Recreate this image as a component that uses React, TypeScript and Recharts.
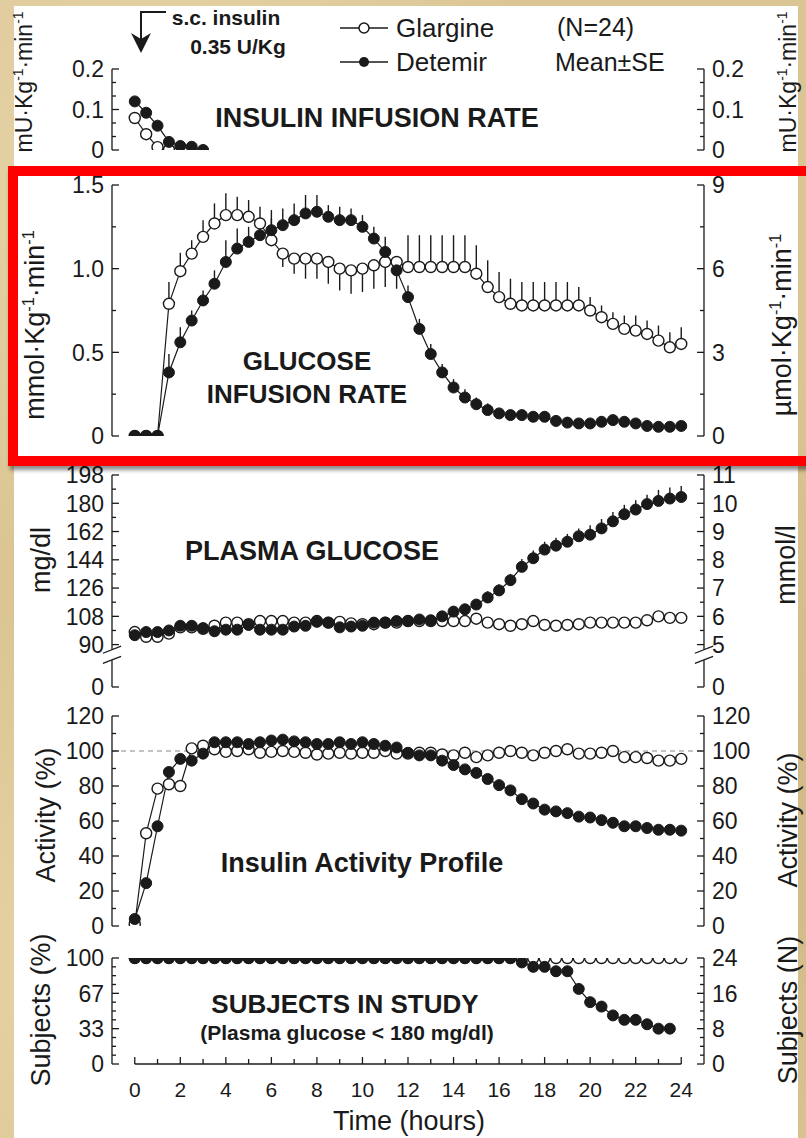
import { LineChart, Line, XAxis, YAxis, ReferenceLine, ErrorBar } from "recharts"

const FONT = '"Liberation Sans", Arial, Helvetica, sans-serif'
const INK = "#1a1a1a"
const W = 806
const MARGIN = { top: 20, right: 42, bottom: 20, left: 52 }
const AXIS_W = 60
const GAP = 8

// sampling times (hours)
const hours = [
  0, 0.5, 1, 1.5, 2, 2.5, 3, 3.5, 4, 4.5, 5, 5.5, 6, 6.5, 7, 7.5, 8, 8.5, 9, 9.5,
  10, 10.5, 11, 11.5, 12, 12.5, 13, 13.5, 14, 14.5, 15, 15.5, 16, 16.5, 17, 17.5,
  18, 18.5, 19, 19.5, 20, 20.5, 21, 21.5, 22, 22.5, 23, 23.5, 24,
]
const hourTicks = [0, 1, 2, 3, 4, 5, 6, 7, 8, 9, 10, 11, 12, 13, 14, 15, 16, 17, 18, 19, 20, 21, 22, 23, 24]

// insulin infusion rate (mU/kg/min)
const infHours = [0, 0.5, 1, 1.5, 2, 2.5, 3]
const infGlargine = [0.079, 0.039, 0.007, 0, null, null, null]
const infDetemir = [0.12, 0.092, 0.06, 0.02, 0.01, 0.008, 0]

// glucose infusion rate (mmol/kg/min)
const girGlargine = [
  0, 0, 0, 0.79, 0.985, 1.09, 1.19, 1.27, 1.32, 1.32, 1.31, 1.27,
  1.17, 1.09, 1.06, 1.06, 1.06, 1.04, 1.0, 0.99, 1.0, 1.02, 1.04, 1.04,
  1.01, 1.01, 1.01, 1.01, 1.01, 1.01, 0.97, 0.89, 0.83, 0.79, 0.78, 0.78,
  0.78, 0.78, 0.78, 0.78, 0.75, 0.71, 0.67, 0.64, 0.63, 0.61, 0.57, 0.53, 0.55,
]
const girGlargineSeDown = [
  0, 0, 0, 0, 0, 0, 0, 0, 0, 0, 0, 0,
  0, 0.08, 0.09, 0.12, 0.12, 0.13, 0.13, 0.14, 0.14, 0.14, 0.15, 0.16,
  0, 0, 0, 0, 0, 0, 0, 0, 0, 0, 0, 0,
  0, 0, 0, 0, 0, 0, 0, 0, 0, 0, 0, 0, 0,
]
const girGlargineSeUp = [
  0, 0, 0, 0.13, 0.11, 0.08, 0.1, 0.12, 0.13, 0.11, 0.1, 0.1,
  0.18, 0, 0, 0, 0, 0, 0, 0, 0, 0, 0, 0,
  0.19, 0.19, 0.19, 0.19, 0.19, 0.19, 0.17, 0.16, 0.15, 0.15, 0.14, 0.14,
  0.14, 0.14, 0.14, 0.11, 0.08, 0.07, 0.07, 0.08, 0.09, 0.08, 0.09, 0.09, 0.1,
]
const girDetemir = [
  0, 0, 0, 0.38, 0.56, 0.69, 0.81, 0.91, 1.04, 1.12, 1.16, 1.2,
  1.23, 1.26, 1.29, 1.33, 1.34, 1.31, 1.29, 1.29, 1.25, 1.18, 1.1, 0.99,
  0.83, 0.64, 0.49, 0.38, 0.29, 0.23, 0.19, 0.155, 0.135, 0.125, 0.125, 0.115,
  0.115, 0.09, 0.08, 0.075, 0.075, 0.085, 0.095, 0.085, 0.075, 0.06, 0.055, 0.055, 0.06,
]
const girDetemirSe = [
  0, 0, 0, 0.11, 0.09, 0.06, 0.06, 0.08, 0.13, 0.12, 0.09, 0.08,
  0.07, 0.1, 0.1, 0.11, 0.1, 0.07, 0.08, 0.07, 0.07, 0.07, 0.09, 0.08,
  0.07, 0.06, 0.06, 0.05, 0.05, 0.05, 0.04, 0.04, 0.03, 0.03, 0.03, 0.03,
  0.03, 0.03, 0.03, 0.03, 0.03, 0.03, 0.03, 0.03, 0.03, 0.03, 0.03, 0.03, 0.03,
]

// plasma glucose (mg/dl)
const pgGlargine = [
  98, 95, 95, 97, 101, 101, 100, 102, 104, 104, 103, 105,
  105, 105, 104, 104, 105, 104, 104.5, 103.5, 103, 103, 104, 104,
  105, 105, 105, 105, 105, 105, 106.5, 104, 103, 102, 103, 105,
  102.5, 102, 102.5, 103, 104, 104, 104, 104, 104, 105.5, 108, 107, 107,
]
const pgDetemir = [
  96, 98, 98, 99, 102, 102, 100.5, 98.5, 99.5, 99.5, 102.5, 99.5,
  99.5, 99.5, 101.5, 102, 104.5, 104, 101, 101.5, 102, 104, 104, 105,
  105, 106, 105.5, 108, 111, 112.5, 115.5, 120, 124.5, 131, 139.5, 145,
  150.5, 153, 155.5, 159, 160, 164, 168.5, 173, 176, 179.5, 181.5, 183, 184,
]
const pgDetemirSe = [
  0, 0, 0, 0, 0, 0, 0, 0, 0, 0, 0, 0,
  0, 0, 0, 0, 0, 0, 0, 0, 0, 0, 0, 0,
  0, 0, 0, 0, 2, 3, 3, 4, 4, 4, 5, 5,
  5, 5, 5, 5, 6, 6, 6, 6, 6, 6, 7, 7, 7,
]

// insulin activity (%)
const actGlargine = [
  1, 53, 78.5, 81, 80, 101.5, 103, 101, 99.5, 100, 101, 99,
  99.5, 100, 99.5, 99, 98, 98.5, 99, 98.5, 99, 99, 100, 98.5,
  98.5, 99, 99, 98, 97.5, 99, 96.5, 97.5, 99, 100, 99, 97.5,
  99, 100, 101, 98.5, 98.5, 99, 100, 96.5, 96.5, 96, 94.5, 94.5, 95.5,
]
const actDetemir = [
  4, 24.5, 57, 88, 95.5, 94.5, 98.5, 105, 105, 105, 104, 105,
  106, 106.5, 105.5, 105, 104, 104, 105, 104, 105, 104, 103, 102,
  99, 97.5, 97.5, 94.5, 92, 89.5, 87.5, 84, 80.5, 77.5, 72.5, 70,
  66.5, 65.5, 64.5, 62.5, 62, 60.5, 59, 57, 57, 56, 55, 55, 54.5,
]

// subjects remaining in study (N of 24)
const subjGlargine = [
  24, 24, 24, 24, 24, 24, 24, 24, 24, 24, 24, 24,
  24, 24, 24, 24, 24, 24, 24, 24, 24, 24, 24, 24,
  24, 24, 24, 24, 24, 24, 24, 24, 24, 24, 24, 24,
  24, 24, 24, 24, 24, 24, 24, 24, 24, 24, 24, 24, 24,
]
const subjDetemir = [
  24, 24, 24, 24, 24, 24, 24, 24, 24, 24, 24, 24,
  24, 24, 24, 24, 24, 24, 24, 24, 24, 24, 24, 24,
  24, 24, 24, 24, 24, 24, 24, 24, 24, 24, 23, 22,
  22, 21, 21, 17, 14, 13, 11, 10, 10, 9, 8, 8, null,
]

const openDot = { r: 5.5, fill: "#fff", stroke: INK, strokeWidth: 1.4 }
const fillDot = { r: 5.5, fill: INK, stroke: INK, strokeWidth: 1 }

function yTick(side: "left" | "right", majors: number[], fmt: (v: number) => string) {
  return (p: any) => {
    const v = p.payload.value
    const major = majors.includes(v)
    const dir = side === "left" ? 1 : -1
    const ax = p.x + dir * GAP
    return (
      <g>
        <line x1={ax} y1={p.y} x2={ax + dir * (major ? 7 : 4)} y2={p.y} stroke={INK} strokeWidth={1.3} />
        {major && (
          <text x={p.x} y={p.y} dy="0.36em" textAnchor={side === "left" ? "end" : "start"}
            fontSize={23} fontFamily={FONT} fill={INK}>{fmt(v)}</text>
        )}
      </g>
    )
  }
}

const xTick = (p: any) => {
  const v = p.payload.value
  const major = v % 2 === 0
  return (
    <g>
      <line x1={p.x} x2={p.x} y1={p.y} y2={p.y - (major ? 7 : 5)} stroke={INK} strokeWidth={1.3} />
      {major && (
        <text x={p.x} y={p.y + 25} dy="0.36em" textAnchor="middle" fontSize={21} fontFamily={FONT} fill={INK}>{v}</text>
      )}
    </g>
  )
}

function yAxes(id: string, domain: [number, number], ticks: number[], majors: number[],
  fmtL: (v: number) => string, fmtR: (v: number) => string, line = true) {
  const common = {
    domain, ticks, interval: 0 as const, width: AXIS_W, tickSize: 0, tickMargin: GAP,
    tickLine: false, allowDataOverflow: true,
    axisLine: line ? { stroke: INK, strokeWidth: 1.3 } : false,
  }
  return [
    <YAxis key="l" yAxisId={id} orientation="left" {...common} tick={yTick("left", majors, fmtL)} />,
    <YAxis key="r" yAxisId={id + "r"} orientation="right" {...common} tick={yTick("right", majors, fmtR)} />,
  ]
}

const hiddenX = <XAxis type="number" dataKey="hour" domain={[-1, 25]} hide />
const str = (v: number) => String(v)

function UnitLabel({ x, y, pre, size = 26 }: { x: number; y: number; pre: string; size?: number }) {
  const up = size * 0.38
  return (
    <text transform={`translate(${x} ${y}) rotate(-90)`} textAnchor="middle" fontSize={size}>
      {pre}·Kg<tspan dy={-up} fontSize={size * 0.6}>-1</tspan>
      <tspan dy={up}>·min</tspan>
      <tspan dy={-up} fontSize={size * 0.6}>-1</tspan>
    </text>
  )
}

function RotLabel({ x, y, text, size = 26 }: { x: number; y: number; text: string; size?: number }) {
  return (
    <text transform={`translate(${x} ${y}) rotate(-90)`} textAnchor="middle" fontSize={size}>{text}</text>
  )
}

function Box({ top, height, children }: { top: number; height: number; children: any }) {
  return <div style={{ position: "absolute", left: 0, top, width: W, height }}>{children}</div>
}

function lines(g: string, d: string, gErr?: string, dErr?: string) {
  return [
    <Line key="g" yAxisId="p" type="linear" dataKey={g} stroke={INK} strokeWidth={1.2}
      dot={openDot} activeDot={false} isAnimationActive={false}>
      {gErr && <ErrorBar dataKey={gErr} direction="y" width={0} stroke={INK} strokeWidth={1.4} />}
    </Line>,
    <Line key="d" yAxisId="p" type="linear" dataKey={d} stroke={INK} strokeWidth={1.2}
      dot={fillDot} activeDot={false} isAnimationActive={false}>
      {dErr && <ErrorBar dataKey={dErr} direction="y" width={0} stroke={INK} strokeWidth={1.4} />}
    </Line>,
  ]
}

export default function App() {
  const infRows = infHours.map((h, i) => ({ hour: h, glar: infGlargine[i], det: infDetemir[i] }))
  const rows = hours.map((h, i) => ({
    hour: h,
    girG: girGlargine[i], girGErr: [girGlargineSeDown[i], girGlargineSeUp[i]],
    girD: girDetemir[i], girDErr: [0, girDetemirSe[i]],
    pgG: pgGlargine[i], pgD: pgDetemir[i], pgDErr: [0, pgDetemirSe[i]],
    actG: actGlargine[i], actD: actDetemir[i],
    subG: subjGlargine[i], subD: subjDetemir[i],
  }))

  const pgTicks = [63, 90, 99, 108, 117, 126, 135, 144, 153, 162, 171, 180, 189, 198]
  const pgMajors = [63, 90, 108, 126, 144, 162, 180, 198]
  const seg = { stroke: INK, strokeWidth: 1.3, ifOverflow: "visible" as const, yAxisId: "p" }

  return (
    <div style={{
      position: "absolute", left: 0, top: 0, width: W, height: 1138, overflow: "hidden",
      background:
        "radial-gradient(circle at 20% 15%, rgba(255,245,215,0.35), transparent 35%)," +
        "radial-gradient(circle at 80% 70%, rgba(150,110,50,0.18), transparent 45%)," +
        "radial-gradient(circle at 10% 85%, rgba(255,240,200,0.3), transparent 30%), #dbc594",
    }}>
      <div style={{ position: "absolute", left: 14, top: 6, width: 784, height: 1132, background: "#fff" }} />

      <Box top={49} height={121}>
        <LineChart width={W} height={121} data={infRows} margin={MARGIN}>
          {hiddenX}
          {yAxes("p", [0, 0.2], [0, 0.0333, 0.0667, 0.1, 0.1333, 0.1667, 0.2], [0, 0.1, 0.2], str, str)}
          {lines("glar", "det")}
        </LineChart>
      </Box>

      <Box top={165} height={291}>
        <LineChart width={W} height={291} data={rows} margin={MARGIN}>
          {hiddenX}
          {yAxes("p", [0, 1.5], [0, 0.25, 0.5, 0.75, 1, 1.25, 1.5], [0, 0.5, 1, 1.5],
            (v) => (v === 0 ? "0" : v.toFixed(1)), (v) => String(v * 6))}
          {lines("girG", "girD", "girGErr", "girDErr")}
        </LineChart>
      </Box>

      <Box top={455} height={252}>
        <LineChart width={W} height={252} data={rows} margin={MARGIN}>
          {hiddenX}
          {yAxes("p", [63, 198], pgTicks, pgMajors,
            (v) => (v === 63 ? "0" : String(v)), (v) => (v === 63 ? "0" : String(v / 18)), false)}
          <ReferenceLine {...seg} segment={[{ x: -1, y: 87 }, { x: -1, y: 198 }]} />
          <ReferenceLine {...seg} segment={[{ x: -1, y: 63 }, { x: -1, y: 80 }]} />
          <ReferenceLine {...seg} segment={[{ x: -1.4, y: 84.5 }, { x: -0.6, y: 89 }]} />
          <ReferenceLine {...seg} segment={[{ x: -1.4, y: 78 }, { x: -0.6, y: 82.5 }]} />
          <ReferenceLine {...seg} segment={[{ x: 25, y: 87 }, { x: 25, y: 198 }]} />
          <ReferenceLine {...seg} segment={[{ x: 25, y: 63 }, { x: 25, y: 80 }]} />
          <ReferenceLine {...seg} segment={[{ x: 24.6, y: 84.5 }, { x: 25.4, y: 89 }]} />
          <ReferenceLine {...seg} segment={[{ x: 24.6, y: 78 }, { x: 25.4, y: 82.5 }]} />
          {lines("pgG", "pgD", undefined, "pgDErr")}
        </LineChart>
      </Box>

      <Box top={696} height={250}>
        <LineChart width={W} height={250} data={rows} margin={MARGIN}>
          {hiddenX}
          {yAxes("p", [0, 120], [0, 10, 20, 30, 40, 50, 60, 70, 80, 90, 100, 110, 120],
            [0, 20, 40, 60, 80, 100, 120], str, str)}
          <ReferenceLine yAxisId="p" y={100} stroke="#888" strokeWidth={1.2} strokeDasharray="5 4" />
          {lines("actG", "actD")}
        </LineChart>
      </Box>

      <Box top={938} height={200}>
        <LineChart width={W} height={200} data={rows} margin={{ ...MARGIN, bottom: 0 }}>
          <XAxis type="number" dataKey="hour" domain={[-1, 25]} ticks={hourTicks} interval={0} height={74}
            tickSize={0} tickMargin={0} tickLine={false} axisLine={false} tick={xTick} />
          {yAxes("p", [0, 24], [0, 2, 4, 6, 8, 10, 12, 14, 16, 18, 20, 22, 24], [0, 8, 16, 24],
            (v) => ({ 0: "0", 8: "33", 16: "67", 24: "100" } as Record<number, string>)[v], str)}
          <ReferenceLine {...seg} segment={[{ x: 0, y: 0 }, { x: 24, y: 0 }]} />
          {lines("subG", "subD")}
        </LineChart>
      </Box>

      <svg width={W} height={1138} style={{ position: "absolute", left: 0, top: 0, pointerEvents: "none" }}
        fontFamily={FONT} fill={INK}>
        {/* dosing arrow */}
        <path d="M166 12 H141 V40" fill="none" stroke={INK} strokeWidth={2} />
        <path d="M131 33 L141 53 L151 33 L141 39 Z" fill={INK} />
        <text x={226} y={25} textAnchor="middle" fontSize={21} fontWeight="bold">s.c. insulin</text>
        <text x={238} y={54} textAnchor="middle" fontSize={21} fontWeight="bold">0.35 U/Kg</text>

        {/* legend */}
        <line x1={340} y1={28} x2={388} y2={28} stroke={INK} strokeWidth={1.5} />
        <circle cx={364} cy={28} r={5} fill="#fff" stroke={INK} strokeWidth={1.5} />
        <text x={396} y={37} fontSize={26}>Glargine</text>
        <line x1={340} y1={62} x2={388} y2={62} stroke={INK} strokeWidth={1.5} />
        <circle cx={364} cy={62} r={5} fill={INK} />
        <text x={396} y={71} fontSize={26}>Detemir</text>
        <text x={557} y={36} fontSize={25}>(N=24)</text>
        <text x={555} y={71} fontSize={25}>Mean±SE</text>

        {/* panel titles */}
        <g fontWeight="bold" textAnchor="middle">
          <text x={377} y={127} fontSize={27}>INSULIN INFUSION RATE</text>
          <text x={307} y={370} fontSize={26}>GLUCOSE</text>
          <text x={307} y={403} fontSize={26}>INFUSION RATE</text>
          <text x={312} y={560} fontSize={27}>PLASMA GLUCOSE</text>
          <text x={362} y={872} fontSize={27}>Insulin Activity Profile</text>
          <text x={345} y={1013} fontSize={26}>SUBJECTS IN STUDY</text>
          <text x={347} y={1040} fontSize={21}>(Plasma glucose &lt; 180 mg/dl)</text>
        </g>
        <text x={409} y={1130} textAnchor="middle" fontSize={27}>Time (hours)</text>

        {/* axis titles */}
        <UnitLabel x={32} y={82} pre="mU" size={23} />
        <UnitLabel x={796} y={82} pre="mU" size={23} />
        <UnitLabel x={44} y={325} pre="mmol" size={27} />
        <UnitLabel x={791} y={325} pre="µmol" size={27} />
        <RotLabel x={50} y={560} text="mg/dl" size={27} />
        <RotLabel x={795} y={565} text="mmol/l" size={27} />
        <RotLabel x={55} y={815} text="Activity (%)" size={27} />
        <RotLabel x={797} y={820} text="Activity (%)" size={27} />
        <RotLabel x={50} y={1010} text="Subjects (%)" size={27} />
        <RotLabel x={797} y={1010} text="Subjects (N)" size={27} />
      </svg>

      <div style={{
        position: "absolute", left: 8, top: 166, width: 840, height: 300, boxSizing: "border-box",
        border: "10px solid #ff0000", boxShadow: "2px 4px 4px rgba(0,0,0,0.45)", pointerEvents: "none",
      }} />
    </div>
  )
}
